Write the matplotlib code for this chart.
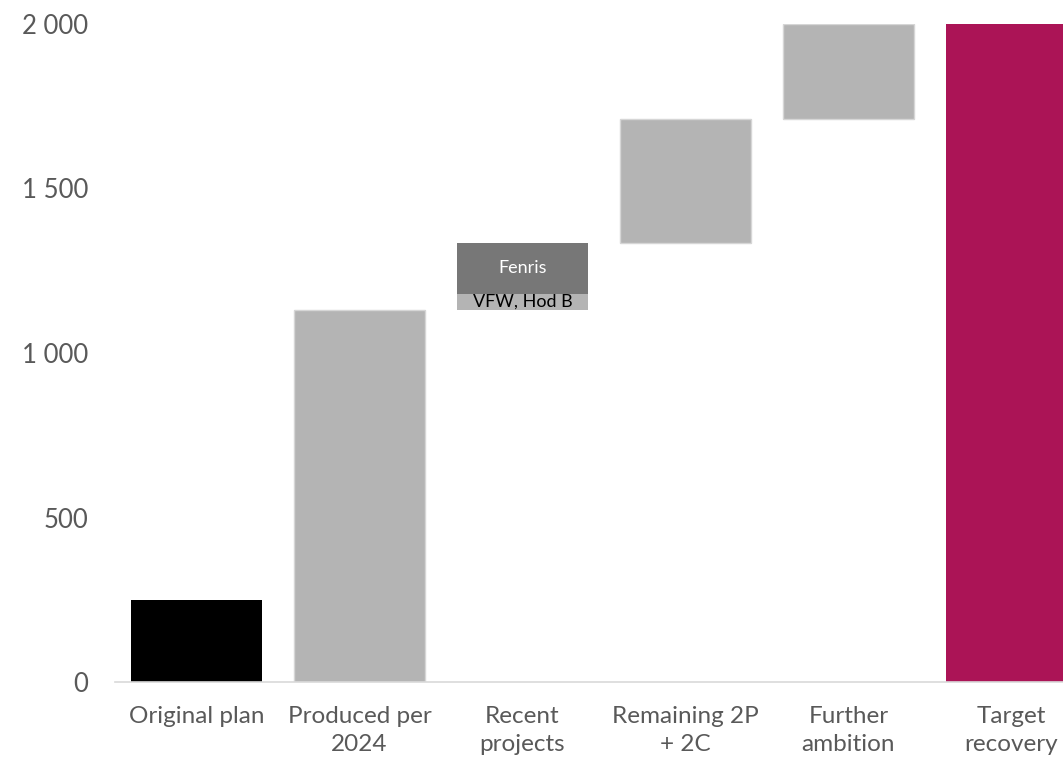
import numpy as np
import matplotlib.pyplot as plt

# Data
categories = ["Original plan", "Produced per\n2024", "Recent\nprojects",
              "Remaining 2P\n+ 2C", "Further\nambition", "Target\nrecovery"]
original_plan = 250
produced_2024 = 1130
recent_parts = ["VFW, Hod B", "Fenris"]
recent_values = [50, 155]
remaining_2p2c = 375
further_ambition = 290
target_recovery = 2000

plt.rcParams['font.family'] = ['Lato', 'DejaVu Sans']

fig = plt.figure(figsize=(10.63, 7.61), dpi=100)
ax = fig.add_axes([115 / 1063, 79 / 761, 978 / 1063, 658 / 761])

x = np.arange(len(categories))
w = 0.8
light = "#b4b4b4"
edge = "#d6d6d6"

ax.bar(x[0], original_plan, width=w, color="black")
ax.bar(x[1], produced_2024, width=w, color=light, edgecolor=edge, linewidth=1)

bottom = produced_2024
recent_colors = [light, "#777777"]
text_colors = ["black", "white"]
for name, val, c, tc in zip(recent_parts, recent_values, recent_colors, text_colors):
    ax.bar(x[2], val, bottom=bottom, width=w, color=c, linewidth=0)
    ax.text(x[2], bottom + val / 2, name, ha="center", va="center",
            fontsize=13, color=tc)
    bottom += val

ax.bar(x[3], remaining_2p2c, bottom=bottom, width=w, color=light,
       edgecolor=edge, linewidth=1)
bottom += remaining_2p2c
ax.bar(x[4], further_ambition, bottom=bottom, width=w, color=light,
       edgecolor=edge, linewidth=1)
ax.bar(x[5], target_recovery, width=w, color="#ab1456")

ax.set_xlim(-0.5, 5.5)
ax.set_ylim(0, 2000)
ax.set_yticks([0, 500, 1000, 1500, 2000])
ax.set_yticklabels([f"{v:,}".replace(",", " ") for v in [0, 500, 1000, 1500, 2000]])
ax.set_xticks(x)
ax.set_xticklabels(categories, linespacing=1.45)

for s in ["top", "right", "left"]:
    ax.spines[s].set_visible(False)
ax.spines["bottom"].set_color("#d9d9d9")
ax.spines["bottom"].set_linewidth(1.2)
ax.tick_params(axis="y", length=0, labelsize=18.5, labelcolor="#595959", pad=19.5)
ax.tick_params(axis="x", length=0, labelsize=17.5, labelcolor="#595959", pad=17)

plt.savefig("out.png", dpi=100)
plt.close()
